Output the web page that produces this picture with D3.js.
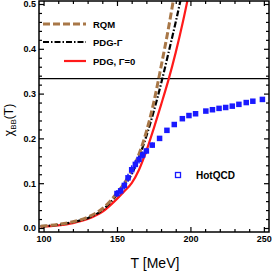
<!DOCTYPE html>
<html><head><meta charset="utf-8">
<script src="https://cdn.jsdelivr.net/npm/d3@7"></script>
<style>
html,body{margin:0;padding:0;background:#fff;}
svg{display:block;}
text{font-family:"Liberation Sans",Arial,sans-serif;}
</style></head>
<body>
<svg id="c" width="273" height="271"></svg>
<script>
// ---- data ----
const rqmT   = [98, 110, 120, 130, 140, 150, 155, 160, 165, 170, 175, 180, 185, 190];
const rqmV   = [0.004, 0.008, 0.014, 0.024, 0.043, 0.078, 0.100, 0.128, 0.165, 0.215, 0.280, 0.360, 0.445, 0.540];
const pdgT   = [98, 110, 120, 130, 140, 150, 155, 160, 165, 170, 175, 180, 185, 190, 195];
const pdgV   = [0.004, 0.007, 0.013, 0.022, 0.040, 0.074, 0.095, 0.120, 0.158, 0.205, 0.260, 0.322, 0.390, 0.460, 0.535];
const pdg0T  = [98, 110, 120, 130, 140, 150, 155, 160, 165, 170, 175, 180, 185, 190, 195, 200];
const pdg0V  = [0.003, 0.006, 0.011, 0.020, 0.036, 0.065, 0.082, 0.100, 0.130, 0.172, 0.222, 0.275, 0.330, 0.392, 0.462, 0.540];
const hotT   = [150, 152.5, 155, 157.5, 160, 162.5, 165, 167.5, 170, 174, 179, 184, 189, 194.5, 199, 203.5, 210.5, 215, 219.5, 224, 228.5, 233, 238, 242.5, 249];
const hotV   = [0.077, 0.083, 0.095, 0.112, 0.130, 0.142, 0.153, 0.163, 0.172, 0.185, 0.200, 0.218, 0.231, 0.244, 0.251, 0.255, 0.261, 0.264, 0.267, 0.269, 0.272, 0.276, 0.280, 0.283, 0.287];
const hotErr = [0.008, 0.008, 0.009, 0.009, 0.010, 0.010, 0.009, 0.008, 0.007, 0.006, 0.005, 0.004, 0.003, 0.003, 0.003, 0.002, 0.002, 0.002, 0.002, 0.002, 0.002, 0.002, 0.002, 0.002, 0.002];
const sbLimit = 1/3;
const xTicks = [100, 150, 200, 250];
const yTicks = [0.0, 0.1, 0.2, 0.3, 0.4, 0.5];
const legendLabels = ["RQM", "PDG-Γ", "PDG, Γ=0"];
const hotLabel = "HotQCD";

// ---- layout ----
const L = 39, R = 269, T = 1, B = 232;
const svg = d3.select("#c");
const x = d3.scaleLinear().domain([96.9, 253.5]).range([L, R]);
const y = d3.scaleLinear().domain([0, 0.5]).range([228, 4]);
const brown = "#a87747", red = "#ff1a1a", blue = "#1a1aff";

svg.append("defs").append("clipPath").attr("id","clip")
  .append("rect").attr("x",L).attr("y",T).attr("width",R-L).attr("height",B-T);

const plot = svg.append("g").attr("clip-path","url(#clip)");

// SB line
plot.append("line").attr("x1",L).attr("x2",R).attr("y1",y(sbLimit)).attr("y2",y(sbLimit))
  .attr("stroke","#000").attr("stroke-width",1.2);

const line = d3.line().x(d=>x(d[0])).y(d=>y(d[1])).curve(d3.curveMonotoneX);
plot.append("path").datum(d3.zip(pdg0T,pdg0V)).attr("d",line)
  .attr("fill","none").attr("stroke",red).attr("stroke-width",2.2);
plot.append("path").datum(d3.zip(pdgT,pdgV)).attr("d",line)
  .attr("fill","none").attr("stroke","#000").attr("stroke-width",2.2).attr("stroke-dasharray","6,2,1.5,2");
plot.append("path").datum(d3.zip(rqmT,rqmV)).attr("d",line)
  .attr("fill","none").attr("stroke",brown).attr("stroke-width",3).attr("stroke-dasharray","7,3");

// HotQCD points
const hot = d3.range(hotT.length).map(i=>({t:hotT[i],v:hotV[i],e:hotErr[i]}));
plot.selectAll(".eb").data(hot).enter().append("line")
  .attr("x1",d=>x(d.t)).attr("x2",d=>x(d.t))
  .attr("y1",d=>y(d.v-d.e)).attr("y2",d=>y(d.v+d.e))
  .attr("stroke",blue).attr("stroke-width",1.5);
const s = 5.5;
plot.selectAll(".pt").data(hot).enter().append("rect")
  .attr("x",d=>x(d.t)-s/2).attr("y",d=>y(d.v)-s/2).attr("width",s).attr("height",s)
  .attr("fill",blue);

// ---- axes (ticks inward) ----
const fmt = d3.format(".1f");
const minorX = d3.range(100, 251, 10).filter(v=>!xTicks.includes(v));
const minorY = d3.range(0, 0.501, 0.02).filter(v=>Math.abs(v*10-Math.round(v*10))>1e-6);
function axisStyle(g){ g.select(".domain").remove(); g.selectAll("line").attr("stroke","#000").attr("stroke-width",1.2);
  g.selectAll("text").attr("font-size",9).attr("font-weight","bold").attr("fill","#000"); }
svg.append("g").attr("transform",`translate(0,${B})`)
  .call(d3.axisBottom(x).tickValues(xTicks).tickSize(-5).tickPadding(4).tickFormat(d3.format("d"))).call(axisStyle);
svg.append("g").attr("transform",`translate(0,${B})`)
  .call(d3.axisBottom(x).tickValues(minorX).tickSize(-3).tickFormat("")).call(axisStyle);
svg.append("g").attr("transform",`translate(0,${T})`)
  .call(d3.axisTop(x).tickValues(xTicks).tickSize(-5).tickFormat("")).call(axisStyle);
svg.append("g").attr("transform",`translate(0,${T})`)
  .call(d3.axisTop(x).tickValues(minorX).tickSize(-3).tickFormat("")).call(axisStyle);
svg.append("g").attr("transform",`translate(${L},0)`)
  .call(d3.axisLeft(y).tickValues(yTicks).tickSize(-5).tickPadding(3).tickFormat(fmt)).call(axisStyle);
svg.append("g").attr("transform",`translate(${L},0)`)
  .call(d3.axisLeft(y).tickValues(minorY).tickSize(-3).tickFormat("")).call(axisStyle);
svg.append("g").attr("transform",`translate(${R},0)`)
  .call(d3.axisRight(y).tickValues(yTicks).tickSize(-5).tickFormat("")).call(axisStyle);
svg.append("g").attr("transform",`translate(${R},0)`)
  .call(d3.axisRight(y).tickValues(minorY).tickSize(-3).tickFormat("")).call(axisStyle);
svg.append("rect").attr("x",L).attr("y",T).attr("width",R-L).attr("height",B-T)
  .attr("fill","none").attr("stroke","#000").attr("stroke-width",1.5);

// ---- titles ----
svg.append("text").attr("x",155).attr("y",268).attr("text-anchor","middle")
  .attr("font-size",14).text("T [MeV]");
const yl = svg.append("text").attr("transform","translate(13,120) rotate(-90)")
  .attr("text-anchor","middle").attr("font-size",12);
yl.append("tspan").text("χ");
yl.append("tspan").attr("font-size",8).attr("dy",3).text("BB");
yl.append("tspan").attr("dy",-3).text("(T)");

// ---- legend ----
const legY = [24, 42, 61];
const legStyles = [
  {c:brown, w:3, d:"7,3", x1:43},
  {c:"#000", w:2.2, d:"6,2,1.5,2", x1:43},
  {c:red, w:2.2, d:null, x1:64}
];
legendLabels.forEach((lab,i)=>{
  const st = legStyles[i];
  svg.append("line").attr("x1",st.x1).attr("x2",86).attr("y1",legY[i]).attr("y2",legY[i])
    .attr("stroke",st.c).attr("stroke-width",st.w).attr("stroke-dasharray",st.d);
  svg.append("text").attr("x",93).attr("y",legY[i]+3.5).attr("font-size",9.5).attr("font-weight","bold").text(lab);
});
svg.append("rect").attr("x",175.5).attr("y",172.5).attr("width",5).attr("height",5)
  .attr("fill","none").attr("stroke",blue).attr("stroke-width",1.3);
svg.append("text").attr("x",196).attr("y",178.5).attr("font-size",10).attr("font-weight","bold").text(hotLabel);
</script>
</body></html>
